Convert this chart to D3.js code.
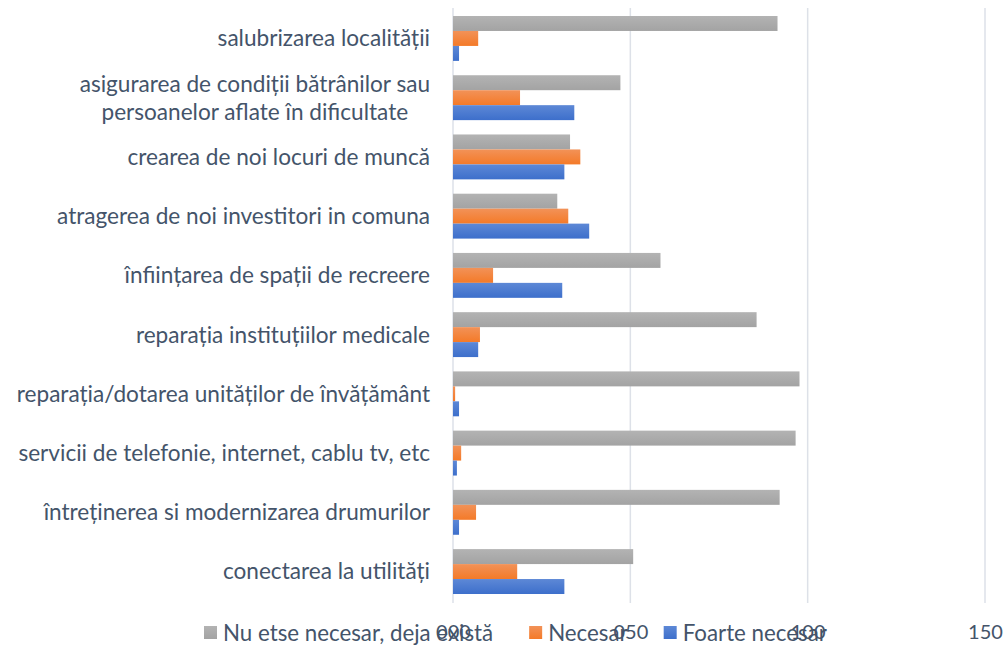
<!DOCTYPE html>
<html>
<head>
<meta charset="utf-8">
<title>Necesitati comuna</title>
<script src="https://cdn.jsdelivr.net/npm/d3@7"></script>
<style>
    html, body { margin: 0; background: #fff; }
    text { font-family: Lato, "Open Sans", sans-serif; fill: #44546a; }
</style>
</head>
<body>
<svg id="chart" width="1005" height="646"></svg>
<script>
// categories, top to bottom
var categories = [
    "salubrizarea localității",
    "asigurarea de condiții bătrânilor sau\npersoanelor aflate în dificultate",
    "crearea de noi locuri de muncă",
    "atragerea de noi investitori in comuna",
    "înființarea de spații de recreere",
    "reparația instituțiilor medicale",
    "reparația/dotarea unităților de învățământ",
    "servicii de telefonie, internet, cablu tv, etc",
    "întreținerea si modernizarea drumurilor",
    "conectarea la utilități"
];
var seriesNames = ["Nu etse necesar, deja există", "Necesar", "Foarte necesar"];
var nuEsteNecesar = [91.5, 47.2, 33.0, 29.4, 58.5, 85.6, 97.7, 96.6, 92.1, 50.8];
var necesar       = [7.1, 18.9, 35.9, 32.5, 11.3, 7.6, 0.6, 2.3, 6.5, 18.1];
var foarteNecesar = [1.7, 34.2, 31.4, 38.4, 30.8, 7.1, 1.7, 1.1, 1.7, 31.4];
var xTicks = [0, 50, 100, 150];

var colors = {
    "Nu etse necesar, deja există": ["#b3b3b3", "#a3a3a3"],
    "Necesar": ["#f29258", "#f47a28"],
    "Foarte necesar": ["#5d88d6", "#3d6fcb"]
};

var svg = d3.select("#chart");

// gradients like the office fill
var defs = svg.append("defs");
seriesNames.forEach(function(s, i) {
    var g = defs.append("linearGradient").attr("id", "grad" + i)
        .attr("x1", 0).attr("y1", 0).attr("x2", 0).attr("y2", 1);
    g.append("stop").attr("offset", "0%").attr("stop-color", colors[s][0]);
    g.append("stop").attr("offset", "100%").attr("stop-color", colors[s][1]);
});

var x = d3.scaleLinear().domain([0, 150]).range([453, 985]);
var y = d3.scaleBand().domain(categories).range([8, 602])
    .paddingInner(0.242).paddingOuter(0.135);
var ySub = d3.scaleBand().domain(seriesNames).range([0, y.bandwidth()]);

var rows = categories.map(function(c, i) {
    return {cat: c, values: [nuEsteNecesar[i], necesar[i], foarteNecesar[i]]};
});

// gridlines
svg.append("g").selectAll("line").data(xTicks).enter().append("line")
    .attr("x1", function(d) { return x(d); })
    .attr("x2", function(d) { return x(d); })
    .attr("y1", 8).attr("y2", 603)
    .attr("stroke", "#dde1e8").attr("stroke-width", 1.5);

// bars
var groups = svg.append("g").selectAll("g").data(rows).enter().append("g")
    .attr("transform", function(d) { return "translate(0," + y(d.cat) + ")"; });

groups.selectAll("rect").data(function(d) { return d.values; }).enter().append("rect")
    .attr("x", x(0))
    .attr("y", function(d, i) { return ySub(seriesNames[i]); })
    .attr("height", ySub.bandwidth())
    .attr("width", function(d) { return x(d) - x(0); })
    .attr("fill", function(d, i) { return "url(#grad" + i + ")"; });

// category labels
var lineH = 28;
var labels = svg.append("g").selectAll("text").data(categories).enter().append("text")
    .style("font-size", "22.6px")
    .attr("text-anchor", "middle");

labels.each(function(c) {
    var t = d3.select(this);
    var lines = c.split("\n");
    var cy = y(c) + y.bandwidth() / 2;
    lines.forEach(function(l, k) {
        t.append("tspan").text(l)
            .attr("y", cy + (k - (lines.length - 1) / 2) * lineH)
            .attr("dy", "0.35em");
    });
    var w = 0;
    t.selectAll("tspan").each(function() { w = Math.max(w, this.getComputedTextLength()); });
    t.selectAll("tspan").attr("x", 430 - w / 2);
});

// x axis tick labels (no line)
var xAxis = d3.axisBottom(x).tickValues(xTicks).tickFormat(d3.format("03d")).tickSize(0).tickPadding(0);
var ax = svg.append("g").attr("transform", "translate(0,632)").call(xAxis);
ax.select(".domain").remove();
ax.selectAll("text").attr("dy", "0.35em").style("font-size", "20px")
    .style("font-family", "Lato, 'Open Sans', sans-serif").attr("fill", "#44546a");

// legend
var legend = svg.append("g").attr("transform", "translate(204,633)");
var lx = 0;
seriesNames.forEach(function(s, i) {
    var item = legend.append("g").attr("transform", "translate(" + lx + ",0)");
    item.append("rect").attr("x", 0).attr("y", -7).attr("width", 13).attr("height", 13)
        .attr("fill", "url(#grad" + i + ")");
    var t = item.append("text").attr("x", 19).attr("dy", "0.35em")
        .style("font-size", "22.3px").text(s);
    lx += 19 + t.node().getComputedTextLength() + 36;
});
</script>
</body>
</html>
